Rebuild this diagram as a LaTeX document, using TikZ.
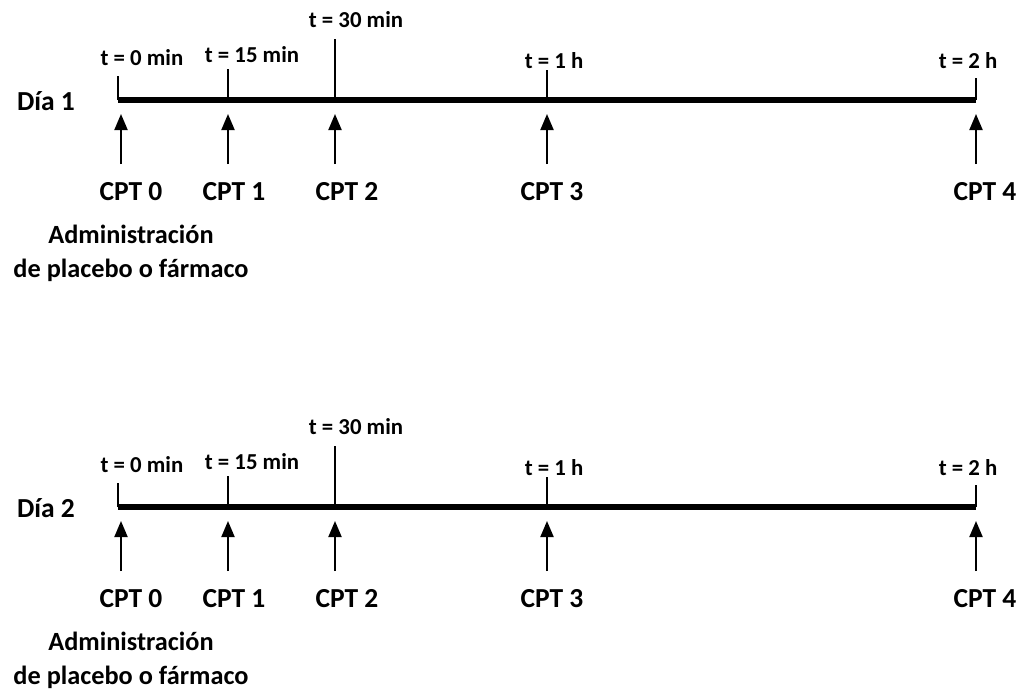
\documentclass[tikz,border=0pt]{standalone}
\usepackage{fontspec}
\setmainfont{Carlito}
\usetikzlibrary{arrows.meta}
\tikzset{
  daylab/.style={font=\bfseries\fontsize{27.5}{32}\selectfont, inner sep=0pt},
  tlab/.style={font=\bfseries\fontsize{22.8}{26}\selectfont, inner sep=0pt},
  cptlab/.style={font=\bfseries\fontsize{27.5}{32}\selectfont, inner sep=0pt},
  adminlab/.style={font=\bfseries\fontsize{26.3}{34}\selectfont, inner sep=0pt, align=center},
  mainline/.style={line width=5.5pt},
  tickline/.style={line width=1.6pt},
  cptarrow/.style={line width=2pt, -{Triangle[length=16pt,width=13pt]}}
}
\begin{document}
\begin{tikzpicture}[x=1pt,y=-1pt]
\useasboundingbox (0,0) rectangle (1024,689);
\foreach \d/\oy in {1/0,2/407}{
  \begin{scope}[shift={(0,\oy)}]
    \node[daylab] (day\d) at (46,101) {Día \d};
    \coordinate (s\d) at (118,100);
    \coordinate (e\d) at (976,100);
    \draw[mainline] (s\d) -- (e\d);
    \foreach \i/\x/\top/\lx/\ly/\txt in {0/118/76/142/58/{t = 0 min},1/228/69/252/55/{t = 15 min},2/335/39/356/20/{t = 30 min},3/547/70/554/61/{t = 1 h},4/976/78/968/61/{t = 2 h}}{
      \coordinate (tb\d\i) at (\x,100);
      \coordinate (tt\d\i) at (\x,\top);
      \draw[tickline] (tb\d\i) -- (tt\d\i);
      \node[tlab] (tl\d\i) at (\lx,\ly) {\txt};
    }
    \foreach \i/\x/\cx in {0/121/131,1/228/234,2/335/347,3/547/552,4/976/985}{
      \coordinate (ab\d\i) at (\x,164);
      \coordinate (at\d\i) at (\x,114);
      \draw[cptarrow] (ab\d\i) -- (at\d\i);
      \node[cptlab] (cpt\d\i) at (\cx,192) {CPT \i};
    }
    \node[adminlab] (adm\d) at (131,253) {Administración\\de placebo o fármaco};
  \end{scope}
}
\end{tikzpicture}
\end{document}
